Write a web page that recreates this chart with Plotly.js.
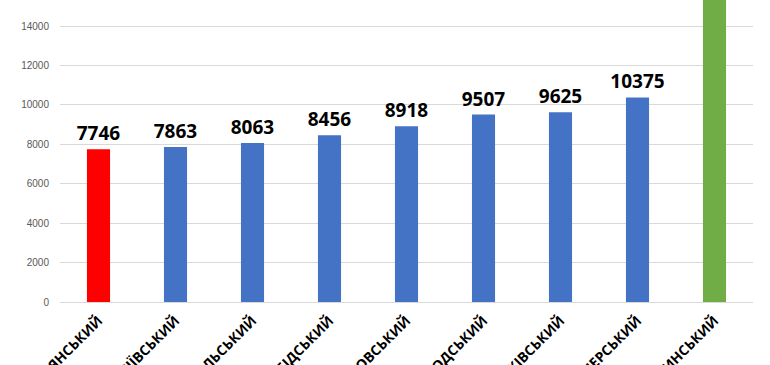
<!DOCTYPE html>
<html>
<head>
<meta charset="utf-8">
<script src="https://cdn.plot.ly/plotly-3.0.1.min.js"></script>
<style>html,body{margin:0;padding:0;background:#fff;}#chart{width:770px;height:365px;}</style>
</head>
<body>
<div id="chart"></div>
<script>
const categories = ["ДЕСНЯНСЬКИЙ", "ГОЛОСІЇВСЬКИЙ", "ПОДІЛЬСЬКИЙ", "СЛОБІДСЬКИЙ", "ДНІПРОВСЬКИЙ", "ЗАВОДСЬКИЙ", "ШЕВЧЕНКІВСЬКИЙ", "ПЕЧЕРСЬКИЙ", "СВЯТОШИНСЬКИЙ"];
const values = [7746, 7863, 8063, 8456, 8918, 9507, 9625, 10375, 17500];
const barColors = ["#FF0000", "#4472C4", "#4472C4", "#4472C4", "#4472C4", "#4472C4", "#4472C4", "#4472C4", "#70AD47"];
const valueLabels = ["7746", "7863", "8063", "8456", "8918", "9507", "9625", "10375", ""];
const yTicks = [0, 2000, 4000, 6000, 8000, 10000, 12000, 14000];

const trace = {
  type: "bar",
  x: categories,
  y: values,
  marker: {color: barColors},
  text: valueLabels,
  textposition: "outside",
  constraintext: "none",
  textfont: {family: "Open Sans", size: 19, color: "#000000", weight: "bold"},
  cliponaxis: true,
  hoverinfo: "none"
};

const layout = {
  width: 770,
  height: 365,
  margin: {l: 60, r: 17, t: 0, b: 63, pad: 0},
  paper_bgcolor: "#ffffff",
  plot_bgcolor: "#ffffff",
  bargap: 0.7,
  showlegend: false,
  uniformtext: {mode: false},
  xaxis: {
    type: "category",
    tickangle: -45,
    tickfont: {family: "Open Sans", size: 14, color: "#000000", weight: "bold"},
    showgrid: false,
    showline: false,
    zeroline: false,
    ticks: "outside",
    ticklen: 4,
    tickcolor: "rgba(0,0,0,0)",
    automargin: false,
    fixedrange: true
  },
  yaxis: {
    range: [0, 15320],
    tickvals: yTicks,
    ticktext: yTicks.map(String),
    tickfont: {family: "Liberation Sans", size: 10, color: "#595959"},
    showgrid: true,
    gridcolor: "#D9D9D9",
    gridwidth: 1,
    zeroline: true,
    zerolinecolor: "#D9D9D9",
    showline: false,
    ticks: "outside",
    ticklen: 8,
    tickcolor: "rgba(0,0,0,0)",
    automargin: false,
    fixedrange: true
  }
};

Plotly.newPlot("chart", [trace], layout, {staticPlot: true, displayModeBar: false});
</script>
</body>
</html>
